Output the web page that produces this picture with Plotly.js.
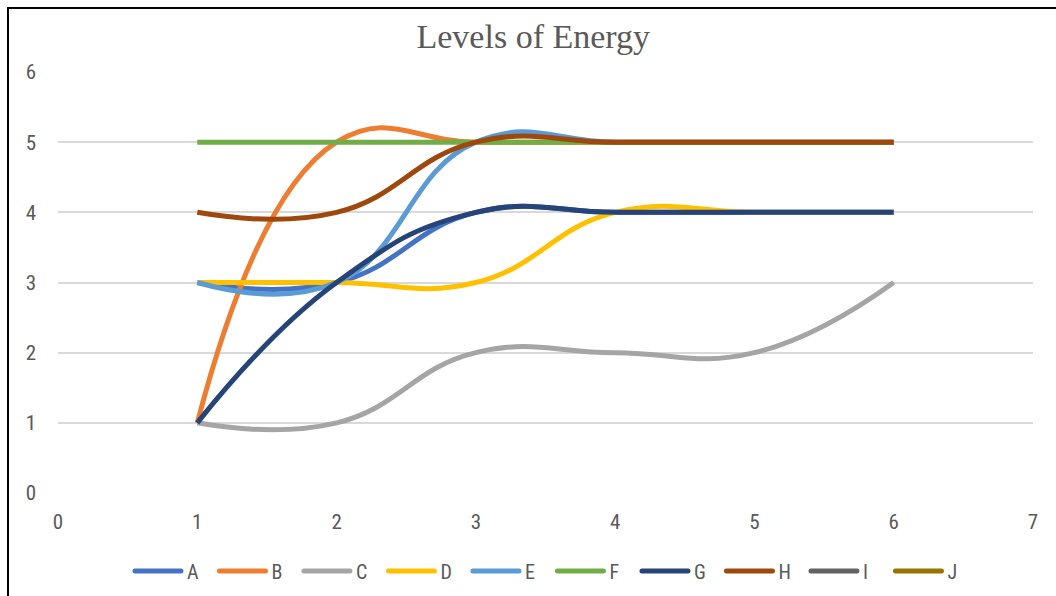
<!DOCTYPE html>
<html>
<head>
<meta charset="utf-8">
<script src="https://cdn.plot.ly/plotly-3.0.1.min.js"></script>
<style>
html,body{margin:0;padding:0;background:#fff;}
#wrap{position:relative;width:1056px;height:596px;}
#chart{width:1056px;height:596px;}
#frame{position:absolute;left:7px;top:7px;right:-5px;bottom:-5px;border-top:2px solid #000;border-left:2px solid #000;pointer-events:none;}
#chart .legendlines path{d:path("M5,0 h46");stroke-linecap:round;}
</style>
</head>
<body>
<div id="wrap"><div id="chart"></div><div id="frame"></div></div>
<script>
const xValues = [1, 2, 3, 4, 5, 6];
const seriesNames = ["A", "B", "C", "D", "E", "F", "G", "H", "I", "J"];
const A = [3, 3, 4, 4, 4, 4];
const B = [1, 5, 5, 5, 5, 5];
const C = [1, 1, 2, 2, 2, 3];
const D = [3, 3, 3, 4, 4, 4];
const E = [3, 3, 5, 5, 5, 5];
const F = [5, 5, 5, 5, 5, 5];
const G = [1, 3, 4, 4, 4, 4];
const H = [4, 4, 5, 5, 5, 5];
const I = [null, null, null, null, null, null];
const J = [null, null, null, null, null, null];
const seriesValues = [A, B, C, D, E, F, G, H, I, J];
const colors = ["#4472C4", "#ED7D31", "#A5A5A5", "#FFC000", "#5B9BD5", "#70AD47", "#264478", "#9E480E", "#636363", "#997300"];
const xTicks = [0, 1, 2, 3, 4, 5, 6, 7];
const yTicks = [0, 1, 2, 3, 4, 5, 6];

const font = "Liberation Sans Narrow, Arial Narrow, Roboto Condensed, Liberation Sans, sans-serif";

const traces = seriesNames.map((n, i) => ({
  type: "scatter",
  mode: "lines",
  name: n,
  x: xValues,
  y: seriesValues[i],
  line: {color: colors[i], width: 5, shape: "spline", smoothing: 1.3},
  hoverinfo: "x+y+name"
}));

const layout = {
  width: 1056,
  height: 596,
  margin: {l: 58, r: 23, t: 72, b: 103, autoexpand: false},
  paper_bgcolor: "#fff",
  plot_bgcolor: "#fff",
  title: {
    text: "Levels of Energy",
    font: {family: "Liberation Serif, Times New Roman, serif", size: 34, color: "#595959"},
    x: 0.505, xanchor: "center", y: 0.94, yanchor: "middle"
  },
  xaxis: {
    range: [0, 7], tickvals: xTicks, showgrid: false, zeroline: false, showline: false, ticks: "",
    tickfont: {family: font, size: 21, color: "#595959"}, ticklabelstandoff: 14
  },
  yaxis: {
    range: [0, 6], tickvals: yTicks, showgrid: true, gridcolor: "#D9D9D9", gridwidth: 2,
    zeroline: false, showline: false, ticks: "",
    tickfont: {family: font, size: 21, color: "#595959"}, ticklabelstandoff: 21
  },
  showlegend: true,
  legend: {
    orientation: "h", x: 0.0738, xanchor: "left", y: -0.185, yanchor: "middle",
    font: {family: font, size: 20, color: "#595959"},
    entrywidth: 22.5, entrywidthmode: "pixels", itemwidth: 47, tracegroupgap: 0
  }
};

function stretchLegendLines() {
  document.querySelectorAll("#chart .legendlines path").forEach(p => {
    p.setAttribute("d", "M5,0h46");
    p.style.strokeLinecap = "round";
  });
}

Plotly.newPlot("chart", traces, layout, {displayModeBar: false, staticPlot: true}).then(gd => {
  stretchLegendLines();
  gd.on("plotly_afterplot", stretchLegendLines);
});
</script>
</body>
</html>
